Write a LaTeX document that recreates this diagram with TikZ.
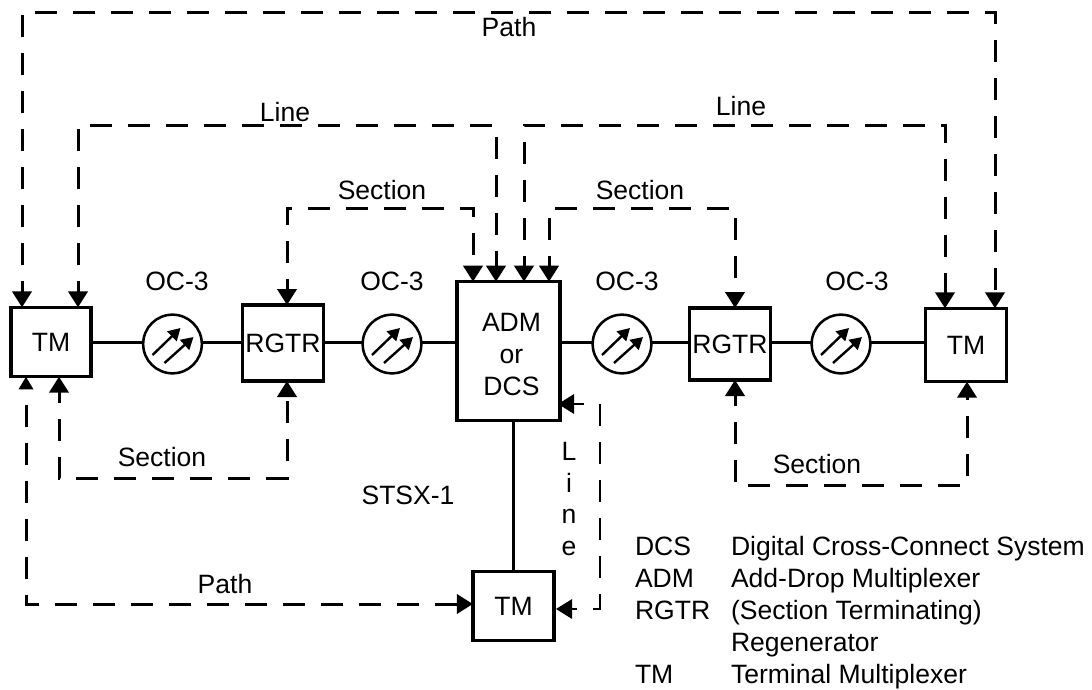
\documentclass[tikz,border=0pt]{standalone}
\usepackage{fontspec}
\setmainfont{Liberation Sans}
\usetikzlibrary{arrows.meta}

\tikzset{
    netbox/.style={draw,line width=2.6pt,inner sep=0pt,outer sep=0pt,align=center},
    ampcircle/.style={circle,draw,line width=1.9pt,minimum size=44pt,inner sep=0pt,outer sep=0pt},
    fibarrow/.style={line width=1.8pt,-{Triangle[length=9pt,width=10pt]}},
    span/.style={line width=2.25pt},
    oh/.style={line width=2.25pt,dash pattern=on 16.5pt off 12pt,dash phase=8.5pt,{Triangle[length=12pt,width=14.5pt]}-{Triangle[length=12pt,width=14.5pt]}},
    ohthin/.style={oh,line width=1.6pt},
    lab/.style={inner sep=0pt,outer sep=0pt},
    keytext/.style={lab,anchor=base west}
}

\begin{document}
\begin{tikzpicture}[x=0.75pt,y=-0.75pt,every node/.append style={font=\fontsize{19.9}{24}\selectfont}]
        \useasboundingbox (0,0) rectangle (1092,689);

        % terminals and regenerators
        \node[netbox,minimum width=60pt,minimum height=52pt] (tma) at (51,342) {TM};
        \node[netbox,minimum width=61pt,minimum height=57pt] (rgtra) at (283,343) {RGTR};
        \node[netbox,minimum width=77pt,minimum height=104pt] (adm) at (508.5,351) {};
        \node[lab,align=center] (ladm) at (511.5,354) {ADM\\or\\DCS};
        \node[netbox,minimum width=61pt,minimum height=54pt] (rgtrb) at (730,344) {RGTR};
        \node[netbox,minimum width=61pt,minimum height=55pt] (tmb) at (966,345) {TM};
        \node[netbox,minimum width=61pt,minimum height=52pt] (tmc) at (513.5,606) {TM};

        % amplifiers
        \node[ampcircle] (oca) at (172.5,344) {};
        \node[ampcircle] (ocb) at (392,344) {};
        \node[ampcircle] (occ) at (622,344) {};
        \node[ampcircle] (ocd) at (841,344) {};
        \foreach \c in {oca,ocb,occ,ocd} {
            \draw[fibarrow] (\c) ++(-20,11) -- ++(28,-27);
            \draw[fibarrow] (\c) ++(-8,19) -- ++(29,-26);
        }

        % spans
        \coordinate (spanline) at (0,342);
        \draw[span] (tma.east |- spanline) -- (oca.west |- spanline);
        \draw[span] (oca.east |- spanline) -- (rgtra.west |- spanline);
        \draw[span] (rgtra.east |- spanline) -- (ocb.west |- spanline);
        \draw[span] (ocb.east |- spanline) -- (adm.west |- spanline);
        \draw[span] (adm.east |- spanline) -- (occ.west |- spanline);
        \draw[span] (occ.east |- spanline) -- (rgtrb.west |- spanline);
        \draw[span] (rgtrb.east |- spanline) -- (ocd.west |- spanline);
        \draw[span] (ocd.east |- spanline) -- (tmb.west |- spanline);
        \draw[span] (adm.south) ++(5,0) coordinate (stsx) -- (stsx |- tmc.north);

        % overhead corners
        \coordinate (patha) at (22,12);
        \coordinate (pathb) at (995,12);
        \coordinate (linea) at (78,125);
        \coordinate (lineb) at (496,125);
        \coordinate (linec) at (524,125);
        \coordinate (lined) at (945,125);
        \coordinate (seca) at (287,208);
        \coordinate (secb) at (473,208);
        \coordinate (secc) at (549,208);
        \coordinate (secd) at (735,208);
        \coordinate (sece) at (59,478);
        \coordinate (secf) at (287,478);
        \coordinate (secg) at (735,485);
        \coordinate (sech) at (967,485);
        \coordinate (pathc) at (26,604);
        \coordinate (lineh) at (600,404);
        \coordinate (linej) at (600,609);
        \coordinate (linek) at (558,404);
        \coordinate (linem) at (556,609);

        \draw[oh] (patha |- tma.north) -- (patha) -- (pathb) -- (pathb |- tmb.north);
        \draw[oh] (linea |- tma.north) -- (linea) -- (lineb) -- (lineb |- adm.north);
        \draw[oh] (linec |- adm.north) -- (linec) -- (lined) -- (lined |- tmb.north);
        \draw[oh] (seca |- rgtra.north) -- (seca) -- (secb) -- (secb |- adm.north);
        \draw[oh] (secc |- adm.north) -- (secc) -- (secd) -- (secd |- rgtrb.north);
        \draw[oh] (sece |- tma.south) -- (sece) -- (secf) -- (secf |- rgtra.south);
        \draw[oh] (secg |- rgtrb.south) -- (secg) -- (sech) -- (sech |- tmb.south);
        \draw[oh,dash phase=16.5pt,{Triangle[length=9.5pt,width=10.5pt]}-{Triangle[length=12pt,width=14.5pt]}] (pathc |- tma.south) -- (pathc) -- (pathc -| tmc.west);
        \draw[ohthin] (linek) -- (lineh) -- (linej) -- (linem);

        % labels
        \node[lab] (lpatha) at (509,27) {Path};
        \node[lab] (llinea) at (285,112) {Line};
        \node[lab] (llineb) at (741,106) {Line};
        \node[lab] (lseca) at (382,190) {Section};
        \node[lab] (lsecb) at (640,190) {Section};
        \node[lab] (lsecc) at (162,457) {Section};
        \node[lab] (lsecd) at (817,464) {Section};
        \node[lab] (lpathb) at (225,584) {Path};
        \node[lab] (loca) at (177,281) {OC-3};
        \node[lab] (locb) at (392,281) {OC-3};
        \node[lab] (locc) at (627,281) {OC-3};
        \node[lab] (locd) at (857,281) {OC-3};
        \node[lab] (lstsx) at (408,495) {STSX-1};
        \node[lab] (lvl) at (569,451) {L};
        \node[lab] (lvi) at (569,483) {i};
        \node[lab] (lvn) at (569,516) {n};
        \node[lab] (lve) at (569,548) {e};

        % key
        \node[keytext] (kdcs) at (635,555) {DCS};
        \node[keytext] (kadm) at (635,587) {ADM};
        \node[keytext] (krgtr) at (635,619) {RGTR};
        \node[keytext] (ktm) at (635,683) {TM};
        \node[keytext] (tdcs) at (731,555) {Digital Cross-Connect System};
        \node[keytext] (tadm) at (731,587) {Add-Drop Multiplexer};
        \node[keytext] (trgtr) at (731,619) {(Section Terminating)};
        \node[keytext] (tregen) at (731,651) {Regenerator};
        \node[keytext] (ttm) at (731,683) {Terminal Multiplexer};
    \end{tikzpicture}
\end{document}
